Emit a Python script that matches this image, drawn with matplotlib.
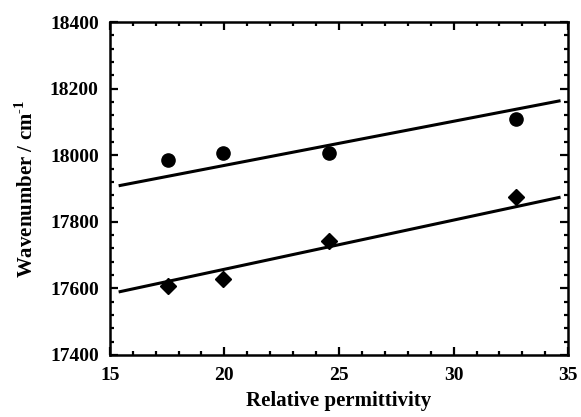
import numpy as np
import matplotlib
matplotlib.use("Agg")
import matplotlib.pyplot as plt
from matplotlib.ticker import MultipleLocator

plt.rcParams['font.family'] = ['Liberation Serif', 'DejaVu Serif']
plt.rcParams['font.weight'] = 'bold'
plt.rcParams['mathtext.fontset'] = 'custom'
plt.rcParams['mathtext.rm'] = 'Liberation Serif:bold'
plt.rcParams['mathtext.bf'] = 'Liberation Serif:bold'

# data
eps = [17.55, 19.92, 24.58, 32.72]
wn_circle = [17985, 18006, 18008, 18109]
wn_diamond = [17607, 17627, 17743, 17875]

# fitted lines (end points)
line_x = [15.45, 34.6]
line_circle = [17909, 18163]
line_diamond = [17590, 17873]

fig = plt.figure(figsize=(5.81, 4.17), dpi=100)
ax = fig.add_axes([0.189, 0.149, 0.789, 0.798])

ax.plot(line_x, line_circle, color='black', lw=2.2)
ax.plot(line_x, line_diamond, color='black', lw=2.2)
ax.plot(eps, wn_circle, 'o', color='black', ms=9.5, ls='none')
ax.plot(eps, wn_diamond, 'D', color='black', ms=8.5, ls='none')

ax.set_xlim(15, 35)
ax.set_ylim(17400, 18400)
ax.xaxis.set_major_locator(MultipleLocator(5))
ax.xaxis.set_minor_locator(MultipleLocator(1))
ax.yaxis.set_major_locator(MultipleLocator(200))
ax.yaxis.set_minor_locator(MultipleLocator(40))

for s in ax.spines.values():
    s.set_linewidth(1.8)
ax.tick_params(which='both', direction='in', top=True, right=True, width=1.6)
ax.tick_params(which='major', length=6, labelsize=14)
ax.tick_params(axis='x', which='major', pad=9)
ax.tick_params(axis='y', which='major', pad=8)
ax.tick_params(which='minor', length=3)

ax.set_xlabel('Relative permittivity', fontsize=15, fontweight='bold', labelpad=5)
ax.set_ylabel('Wavenumber / cm$^{\\text{-1}}$', fontsize=15, fontweight='bold', labelpad=9)

fig.savefig('out.png', dpi=100)
